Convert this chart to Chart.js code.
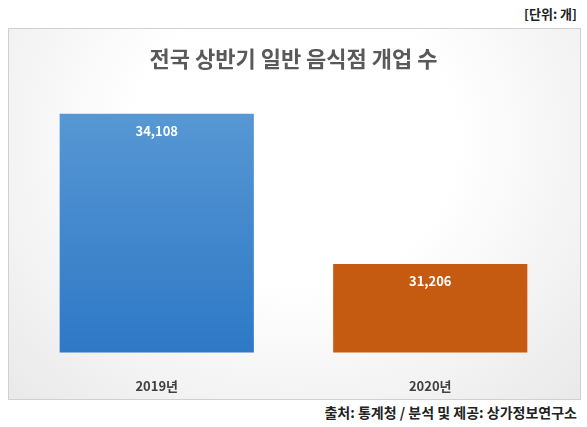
<!DOCTYPE html>
<html><head><meta charset="utf-8">
<script src="https://cdn.jsdelivr.net/npm/chart.js@4"></script>
<style>
body{margin:0;background:#fff;font-family:"Noto Sans CJK KR",sans-serif;}
#wrap{position:relative;width:587px;height:427px;}
#box{position:absolute;left:8px;top:28px;width:571px;height:370px;border:1px solid #d0d0d0;
 background:radial-gradient(ellipse at 50% 30%,#ffffff 40%,#e9e9e9 100%);}
#unit{position:absolute;right:10px;top:4px;font-size:13px;font-weight:bold;color:#222;}
#src{position:absolute;right:10px;top:402px;font-size:14px;font-weight:bold;color:#222;}
canvas{position:absolute;left:0;top:0;}
</style></head><body>
<div id="wrap">
<div id="box"></div>
<div id="unit">[단위: 개]</div>
<div id="src">출처: 통계청 / 분석 및 제공: 상가정보연구소</div>
<canvas id="c" width="587" height="427"></canvas>
</div>
<script>
const years = ['2019년', '2020년'];
const counts = [34108, 31206];
const barColors = ['#4a8ed6', '#c55a11'];

const labelPlugin = {
  id: 'vals',
  afterDatasetsDraw(chart) {
    const ctx = chart.ctx;
    chart.getDatasetMeta(0).data.forEach((bar, i) => {
      ctx.save();
      ctx.fillStyle = '#fff';
      ctx.font = 'bold 13px "Noto Sans CJK KR", sans-serif';
      ctx.textAlign = 'center';
      ctx.textBaseline = 'middle';
      ctx.fillText(counts[i].toLocaleString('en-US'), bar.x, bar.y + 17);
      ctx.restore();
    });
  }
};

new Chart(document.getElementById('c'), {
  type: 'bar',
  data: {
    labels: years,
    datasets: [{
      data: counts,
      backgroundColor: (c) => {
        if (c.dataIndex !== 0) return barColors[c.dataIndex];
        const area = c.chart.chartArea;
        if (!area) return barColors[0];
        const g = c.chart.ctx.createLinearGradient(0, area.top, 0, area.bottom);
        g.addColorStop(0, '#5b9bd5');
        g.addColorStop(1, '#2e78c6');
        return g;
      },
      barPercentage: 0.71,
      categoryPercentage: 1
    }]
  },
  options: {
    responsive: false,
    animation: false,
    layout: { padding: { left: 20, right: 20, bottom: 15 } },
    scales: {
      x: {
        grid: { display: false },
        border: { display: false },
        ticks: { color: '#404040', padding: 18, font: { size: 13, weight: 'bold', family: '"Noto Sans CJK KR"' } }
      },
      y: { display: false, min: 29500, max: 34600 }
    },
    plugins: {
      legend: { display: false },
      tooltip: { enabled: false },
      title: {
        display: true,
        text: '전국 상반기 일반 음식점 개업 수',
        color: '#595959',
        font: { size: 22, weight: 'bold', family: '"Noto Sans CJK KR"' },
        padding: { top: 45, bottom: 17 }
      }
    }
  },
  plugins: [labelPlugin]
});
</script>
</body></html>
